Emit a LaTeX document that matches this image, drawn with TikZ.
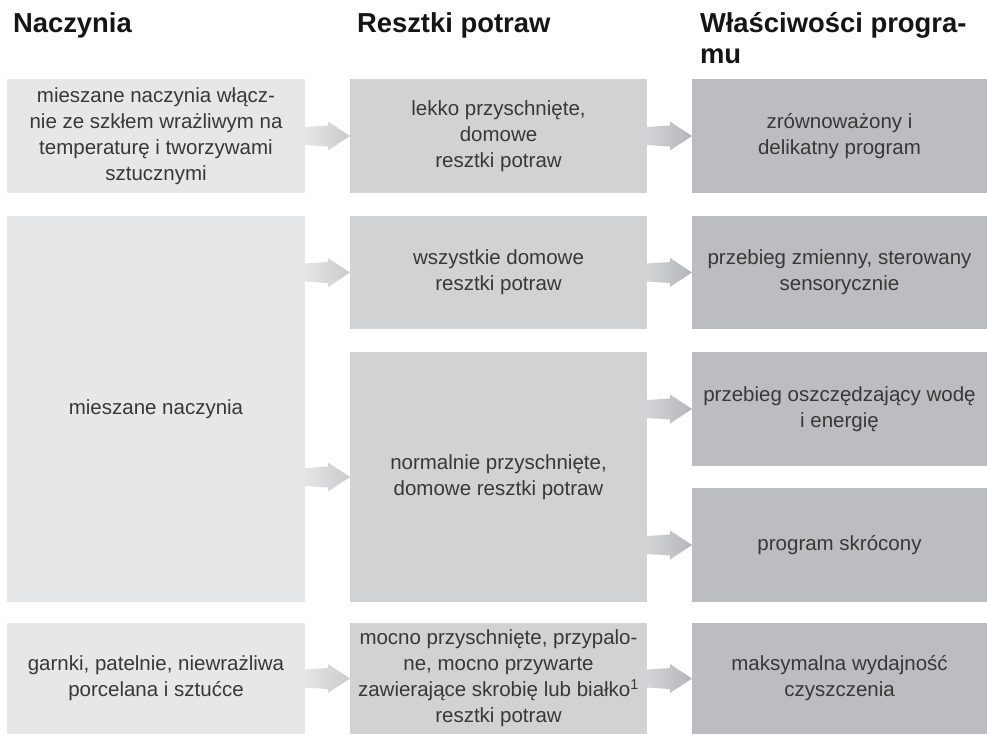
\documentclass[tikz,border=0pt]{standalone}
\usepackage{fontspec}
\setmainfont{Liberation Sans}
\usetikzlibrary{calc}
\definecolor{boxA}{HTML}{E6E7E8}
\definecolor{boxB}{HTML}{D1D2D4}
\definecolor{boxC}{HTML}{BCBDC0}
\definecolor{txt}{HTML}{383838}
\definecolor{hdr}{HTML}{151515}
\definecolor{arAl}{HTML}{E5E5E6}
\definecolor{arAr}{HTML}{CACBCD}
\definecolor{arBl}{HTML}{D3D4D6}
\definecolor{arBr}{HTML}{B4B5B8}
\tikzset{
  cell/.style={rectangle, inner sep=0pt, outer sep=0pt, align=center, text=txt,
    font=\fontsize{20.5}{26}\selectfont},
  cellA/.style={cell, fill=boxA, minimum width=298pt},
  cellB/.style={cell, fill=boxB, minimum width=297pt},
  cellC/.style={cell, fill=boxC, minimum width=295pt},
  hdrtext/.style={inner sep=0pt, outer sep=0pt, anchor=base west, text=hdr,
    font=\fontsize{27.4}{31}\selectfont\bfseries},
  arrA/.style={left color=arAl, right color=arAr, draw=none},
  arrB/.style={left color=arBl, right color=arBr, draw=none},
}
\newcommand{\fatarrow}[3]{%
  \path[#1] ($(#2.east|-#3.west)+(0,-9)$) -- ($(#3.west)+(-22,-10.5)$) -- ($(#3.west)+(-22,-14.5)$)
    -- (#3.west) -- ($(#3.west)+(-22,14.5)$) -- ($(#3.west)+(-22,10.5)$)
    -- ($(#2.east|-#3.west)+(0,9)$) -- cycle;}
\begin{document}
\begin{tikzpicture}[x=1pt,y=-1pt]
\useasboundingbox (0,0) rectangle (987,734);
% headers
\node[hdrtext] (h1) at (13,32) {Naczynia};
\node[hdrtext] (h2) at (357,32) {Resztki potraw};
\node[hdrtext] (h3) at (700,32) {Właściwości progra-};
\node[hdrtext] (h3b) at (700,63) {mu};
% row 1
\node[cellA, minimum height=114pt] (c1r1) at (156,136) {mieszane naczynia włącz-\\nie ze szkłem wrażliwym na\\temperaturę i tworzywami\\sztucznymi};
\node[cellB, minimum height=114pt] (c2r1) at (498.5,136) {lekko przyschnięte,\\domowe\\resztki potraw};
\node[cellC, minimum height=114pt] (c3r1) at (839.5,136) {zrównoważony i\\delikatny program};
% row 2
\node[cellA, minimum height=386pt] (c1r2) at (156,409) {mieszane naczynia};
\node[cellB, minimum height=113pt] (c2a) at (498.5,272.5) {wszystkie domowe\\resztki potraw};
\node[cellB, minimum height=250pt] (c2b) at (498.5,477) {normalnie przyschnięte,\\domowe resztki potraw};
\node[cellC, minimum height=113pt] (c3a) at (839.5,272.5) {przebieg zmienny, sterowany\\sensorycznie};
\node[cellC, minimum height=114pt] (c3b) at (839.5,409) {przebieg oszczędzający wodę\\i energię};
\node[cellC, minimum height=114pt] (c3c) at (839.5,545) {program skrócony};
% row 3
\node[cellA, minimum height=111pt] (c1r3) at (156,678.5) {garnki, patelnie, niewrażliwa\\porcelana i sztućce};
\node[cellB, minimum height=111pt] (c2r3) at (498.5,678.5) {mocno przyschnięte, przypalo-\\ne, mocno przywarte\\zawierające skrobię lub białko\textsuperscript{1}\\resztki potraw};
\node[cellC, minimum height=111pt] (c3r3) at (839.5,678.5) {maksymalna wydajność\\czyszczenia};
% arrows
\fatarrow{arrA}{c1r1}{c2r1}
\fatarrow{arrB}{c2r1}{c3r1}
\fatarrow{arrA}{c1r2}{c2a}
\fatarrow{arrA}{c1r2}{c2b}
\fatarrow{arrB}{c2a}{c3a}
\fatarrow{arrB}{c2b}{c3b}
\fatarrow{arrB}{c2b}{c3c}
\fatarrow{arrA}{c1r3}{c2r3}
\fatarrow{arrB}{c2r3}{c3r3}
\end{tikzpicture}
\end{document}
